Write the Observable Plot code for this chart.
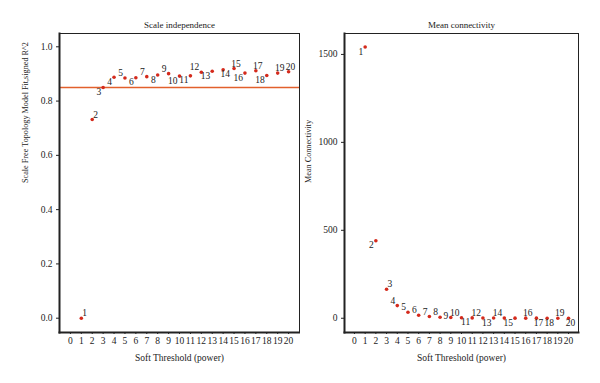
<!DOCTYPE html>
<html>
<head>
<meta charset="utf-8">
<script src="https://cdn.jsdelivr.net/npm/d3@7"></script>
<script src="https://cdn.jsdelivr.net/npm/@observablehq/plot@0.6"></script>
<style>
  html, body { margin: 0; padding: 0; background: #fff; }
  #wrap { position: relative; width: 600px; height: 383px; }
  #left, #right { position: absolute; top: 0; }
  #left { left: 0; }
  #right { left: 300px; }
</style>
</head>
<body>
<div id="wrap"><div id="left"></div><div id="right"></div></div>
<script>
// ---- data ----
const powers = [1,2,3,4,5,6,7,8,9,10,11,12,13,14,15,16,17,18,19,20];
const xTicks = [0,1,2,3,4,5,6,7,8,9,10,11,12,13,14,15,16,17,18,19,20];
const scaleFitR2 = [0.000,0.732,0.850,0.888,0.885,0.886,0.890,0.896,0.901,0.892,0.893,0.906,0.910,0.915,0.920,0.903,0.912,0.894,0.903,0.908];
const meanConnectivity = [1542,441,165,72,34,17,10,6,4,2.5,2,1.5,1.1,0.9,0.7,0.6,0.5,0.4,0.35,0.3];
const cutoffR2 = 0.85;
const leftYTicks = [0.0,0.2,0.4,0.6,0.8,1.0];
const rightYTicks = [0,500,1000,1500];
// label placement side for each point label
const leftLabelSide = ["ne","ne","sw","sw","nw","sw","nw","sw","nw","sw","sw","nw","sw","s","n","sw","n","sw","n","n"];
const rightLabelSide = ["sw","sw","ne","nw","nw","nw","nw","nw","w","nw","sw","nw","sw","nw","sw","n","s","s","n","s"];
const titles = ["Scale independence","Mean connectivity"];
const yLabels = ["Scale Free Topology Model Fit,signed R^2","Mean Connectivity"];
const xLabel = "Soft Threshold (power)";

const FONT = "Liberation Serif, Times New Roman, serif";
const PT = "#d42a1c";
const LINE = "#e2602c";
const TXT = "#222";

const sides = {
  ne: {textAnchor: "start", dx: 1, dy: -5},
  nw: {textAnchor: "end", dx: -2, dy: -5},
  sw: {textAnchor: "end", dx: -2, dy: 4.5},
  se: {textAnchor: "start", dx: 1, dy: 4.5},
  n:  {textAnchor: "middle", dx: 2, dy: -5},
  s:  {textAnchor: "middle", dx: 2, dy: 4.5},
  w:  {textAnchor: "end", dx: -2.5, dy: -2}
};

function panel({values, sidesArr, yDomain, yTicks, yFormat, title, yLabel, marginLeft, marginRight, xDomain, labelOffset, extra}) {
  const rows = powers.map((p, i) => ({p, v: values[i], side: sidesArr[i]}));
  const labelMarks = Object.entries(sides).map(([k, o]) =>
    Plot.text(rows.filter(r => r.side === k), {
      x: "p", y: "v", text: d => String(d.p),
      textAnchor: o.textAnchor, dx: o.dx, dy: o.dy,
      lineAnchor: "middle", fill: TXT, fontSize: 9.5
    })
  );
  return Plot.plot({
    width: 300, height: 383,
    marginTop: 33, marginBottom: 51, marginLeft, marginRight,
    style: {fontFamily: FONT, fontSize: "9.5px", color: TXT, background: "white"},
    x: {domain: xDomain},
    y: {domain: yDomain},
    marks: [
      ...(extra || []),
      Plot.frame({stroke: "#222", strokeWidth: 1}),
      Plot.frame({anchor: "left", stroke: "#222", strokeWidth: 2}),
      Plot.frame({anchor: "bottom", stroke: "#222", strokeWidth: 2}),
      Plot.axisY({ticks: yTicks, tickFormat: yFormat, tickSize: 3, tickPadding: 4, label: null, fontSize: 9.5, stroke: "#222"}),
      Plot.axisX({ticks: xTicks, tickFormat: d => String(d), tickSize: 2, tickPadding: 3, label: null, fontSize: 9.5, stroke: "#222"}),
      Plot.dot(rows, {x: "p", y: "v", r: 1.8, fill: PT, stroke: "none"}),
      ...labelMarks,
      Plot.text([title], {frameAnchor: "top", dy: -8, lineAnchor: "middle", fontSize: 9, fill: TXT}),
      Plot.text([xLabel], {frameAnchor: "bottom", dy: 25, lineAnchor: "middle", fontSize: 9.5, fill: TXT}),
      Plot.text([yLabel], {frameAnchor: "left", dx: -labelOffset, rotate: -90, lineAnchor: "middle", fontSize: 8.2, fill: TXT})
    ]
  });
}

const left = panel({
  values: scaleFitR2, sidesArr: leftLabelSide,
  yDomain: [-0.0527, 1.049], yTicks: leftYTicks, yFormat: d3.format(".1f"),
  title: titles[0], yLabel: yLabels[0],
  marginLeft: 59, marginRight: 1, xDomain: [-1, 21], labelOffset: 34,
  extra: [Plot.ruleY([cutoffR2], {stroke: LINE, strokeWidth: 1.3})]
});
const right = panel({
  values: meanConnectivity, sidesArr: rightLabelSide,
  yDomain: [-81, 1619], yTicks: rightYTicks, yFormat: d => String(d),
  title: titles[1], yLabel: yLabels[1],
  marginLeft: 44, marginRight: 22, xDomain: [-0.93, 20.93], labelOffset: 36
});
document.getElementById("left").appendChild(left);
document.getElementById("right").appendChild(right);
</script>
</body>
</html>
